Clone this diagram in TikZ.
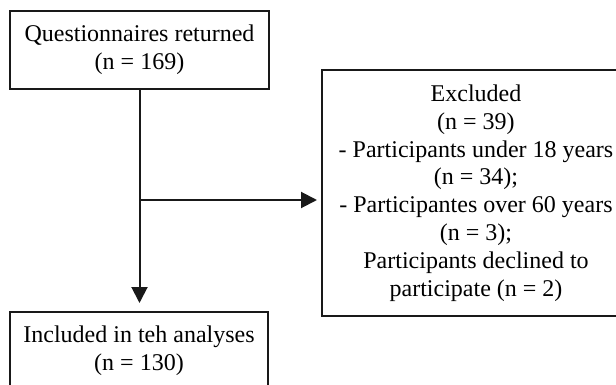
\documentclass[tikz,border=0pt]{standalone}
\usepackage{fontspec}
\setmainfont{Liberation Serif}
\usetikzlibrary{arrows.meta}
\begin{document}
\begin{tikzpicture}[x=0.5pt,y=-0.5pt,
    flowbox/.style={draw=black!90, line width=1pt, align=center, inner sep=0pt,
        font={\fontsize{12}{13.9}\selectfont}},
    flowarrow/.style={draw=black!90, line width=1pt, -{Triangle[length=8pt,width=8pt]}}]
            \useasboundingbox (0,0) rectangle (616,385);
            \node[flowbox, minimum width=129.5pt, minimum height=39pt] (returned) at (139.5,50) {Questionnaires returned\\(n = 169)};
            \node[flowbox, minimum width=154pt, minimum height=122.5pt] (excluded) at (476,193) {Excluded\\(n = 39)\\- Participants under 18 years\\(n = 34);\\- Participantes over 60 years\\(n = 3);\\Participants declined to\\participate (n = 2)};
            \node[flowbox, minimum width=129pt, minimum height=39pt] (included) at (139,351) {Included in teh analyses\\(n = 130)};
            \coordinate (split) at (139.5,200);
            \draw[flowarrow, shorten >=4pt] (returned.south) -- (returned.south |- included.north);
            \draw[flowarrow, shorten >=2pt] (split) -- (split -| excluded.west);
        \end{tikzpicture}
\end{document}
